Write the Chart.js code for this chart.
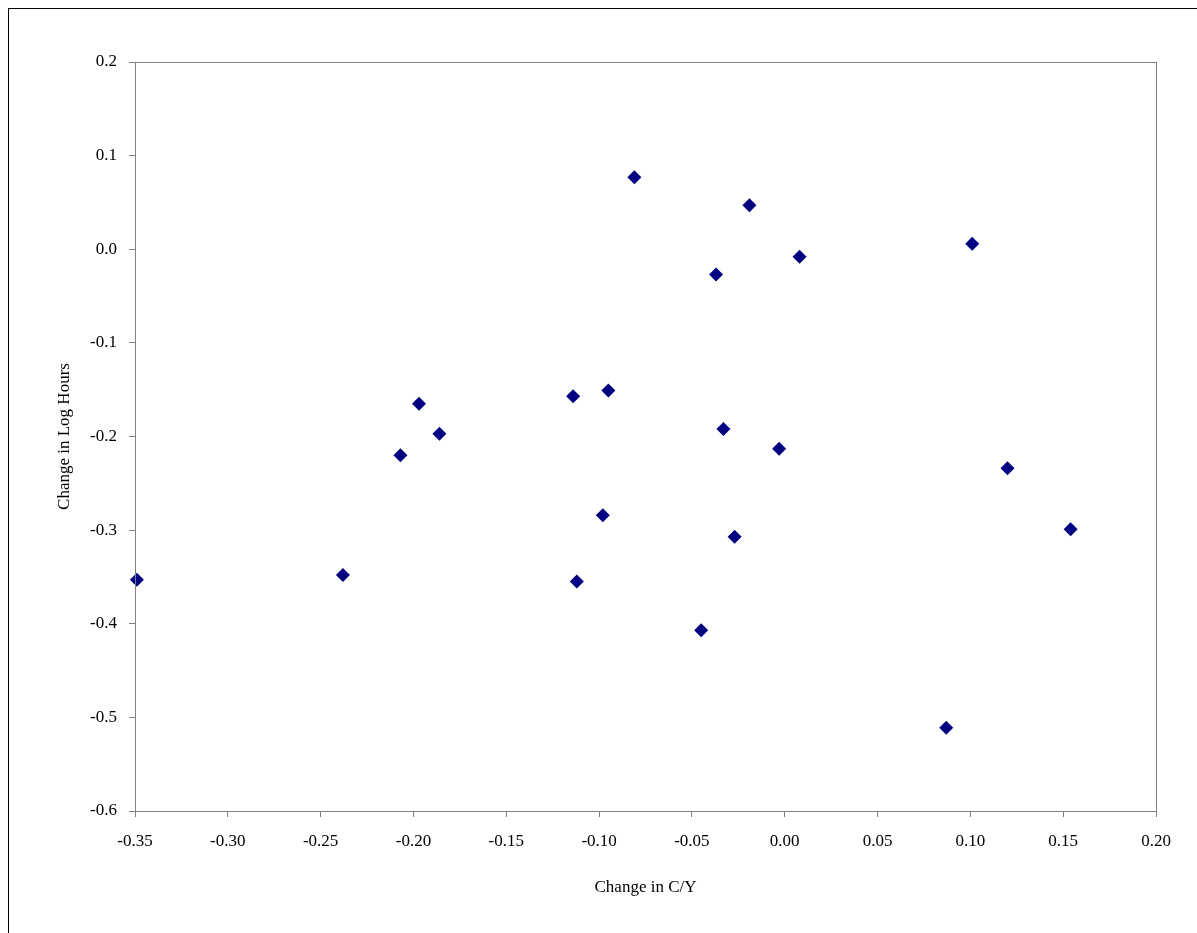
<!DOCTYPE html>
<html><head><meta charset="utf-8">
<script src="https://cdn.jsdelivr.net/npm/chart.js@4/dist/chart.umd.min.js"></script>
<style>
html,body{margin:0;padding:0;background:#fff;}
#wrap{position:absolute;left:0;top:0;width:1197px;height:933px;}
#frame{position:absolute;left:8px;top:8px;width:1200px;height:1000px;border:1px solid #000;pointer-events:none;}
</style></head><body>
<div id="wrap"><canvas id="c" width="1197" height="933"></canvas></div>
<div id="frame"></div>
<script>
const xValues=[-0.349,-0.238,-0.207,-0.197,-0.186,-0.114,-0.112,-0.098,-0.095,-0.081,-0.045,-0.037,-0.033,-0.027,-0.019,-0.003,0.008,0.087,0.101,0.120,0.154];
const yValues=[-0.353,-0.348,-0.220,-0.165,-0.197,-0.157,-0.355,-0.284,-0.151,0.077,-0.407,-0.027,-0.192,-0.307,0.047,-0.213,-0.008,-0.511,0.006,-0.234,-0.299];
const font={family:"'Liberation Serif','DejaVu Serif',serif",size:17};
new Chart(document.getElementById('c'),{
type:'scatter',
data:{datasets:[{data:xValues.map((x,i)=>({x:x,y:yValues[i]})),clip:false,pointStyle:'rectRot',radius:7,hoverRadius:7,backgroundColor:'#000080',borderColor:'#000080',borderWidth:0}]},
options:{responsive:false,animation:false,
layout:{padding:{top:62,right:41,left:50,bottom:31}},
plugins:{legend:{display:false},tooltip:{enabled:false}},
scales:{
x:{min:-0.35,max:0.2,border:{color:'#808080',width:1},grid:{display:true,drawOnChartArea:false,drawTicks:true,tickLength:6,color:'#808080'},
ticks:{stepSize:0.05,color:'#000',font:font,callback:v=>v.toFixed(2),maxRotation:0,padding:14},
title:{display:true,text:'Change in C/Y',color:'#000',font:font,padding:{top:14}},
afterFit:s=>{s.height=91;}},
y:{min:-0.6,max:0.2,border:{color:'#808080',width:1},grid:{display:true,drawOnChartArea:false,drawTicks:true,tickLength:6,color:'#808080'},
ticks:{stepSize:0.1,color:'#000',font:font,callback:v=>v.toFixed(1),padding:12},
title:{display:true,text:'Change in Log Hours',color:'#000',font:font,padding:{bottom:8}},
afterFit:s=>{s.width=85;}}
}},
plugins:[{id:'box',afterDraw(c){const a=c.chartArea,g=c.ctx;g.save();g.strokeStyle='#808080';g.lineWidth=1;g.strokeRect(a.left+0.5,a.top+0.5,a.right-a.left,a.bottom-a.top);g.restore();}}]
});
</script></body></html>
